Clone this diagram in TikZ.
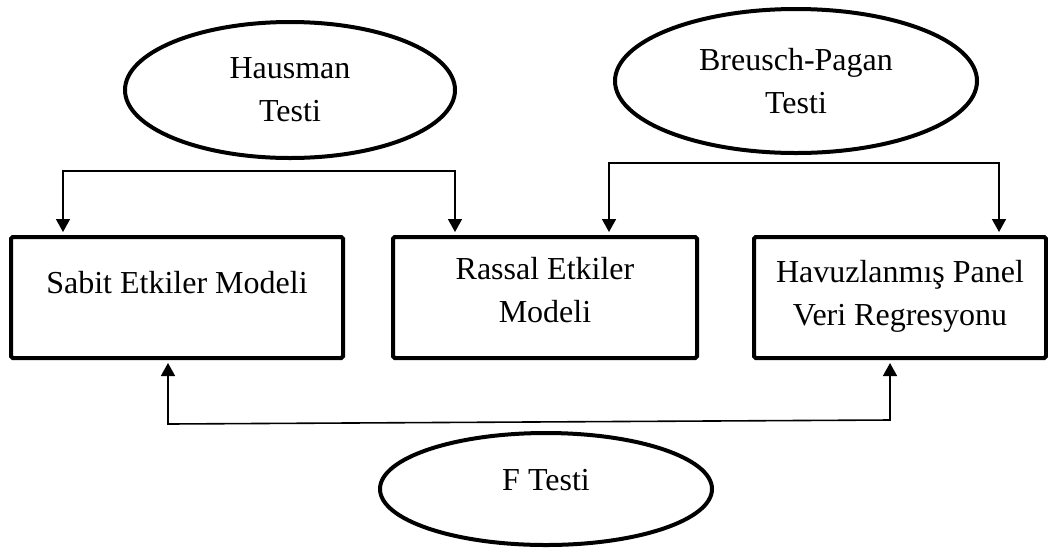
\documentclass[tikz,border=0pt]{standalone}
\usepackage{fontspec}
\setmainfont{Liberation Serif}
\usetikzlibrary{positioning, shapes.geometric, arrows.meta}
\tikzstyle{diagram} = [x = 1pt, y = -1pt, every node/.style={font=\fontsize{32}{43}\selectfont, align=center}]
\tikzstyle{modelBox} = [draw, line width=4pt, rounded corners = .06cm, inner sep=0pt]
\tikzstyle{testEllipse} = [draw, ellipse, line width=4pt, inner sep=0pt]
\tikzstyle{testLink} = [{Triangle[length=13pt, width=14pt]}-{Triangle[length=13pt, width=14pt]}, line width=1.6pt, shorten <=3pt, shorten >=3pt]
\newcommand{\bracketLink}[4]{\draw [testLink] (#1 |- #2) -- (#1) -- (#3) -- (#3 |- #4);}

\begin{document}
\begin{tikzpicture}[diagram]
  \useasboundingbox (0,0) rectangle (1048,550);
  % models
  \node [modelBox, minimum width=332pt, text height=56pt, text depth=65pt] (sabit) at (177,297.5) {Sabit Etkiler Modeli};
  \node [modelBox, minimum width=304pt, text height=85pt, text depth=36pt] (rassal) at (545,297.5) {Rassal Etkiler\\Modeli};
  \node [modelBox, minimum width=292pt, text height=88pt, text depth=33pt] (havuz) at (900,297.5) {Havuzlanmış Panel\\Veri Regresyonu};
  % tests
  \node [testEllipse, minimum width=330pt, minimum height=136pt] (hausman) at (290,90) {Hausman\\Testi};
  \node [testEllipse, minimum width=362pt, minimum height=144pt] (breusch) at (796,81) {Breusch-Pagan\\Testi};
  \node [testEllipse, minimum width=332pt, minimum height=112pt, text depth=18pt] (ftest) at (546,489) {F Testi};
  % links
  \coordinate (hausmanLeft) at (63,171);
  \coordinate (hausmanRight) at (455,171);
  \coordinate (breuschLeft) at (609,163);
  \coordinate (breuschRight) at (999,163);
  \coordinate (fLeft) at (168,424);
  \coordinate (fRight) at (890,420);
  \bracketLink{hausmanLeft}{sabit.north}{hausmanRight}{rassal.north}
  \bracketLink{breuschLeft}{rassal.north}{breuschRight}{havuz.north}
  \bracketLink{fLeft}{sabit.south}{fRight}{havuz.south}
\end{tikzpicture}
\end{document}
